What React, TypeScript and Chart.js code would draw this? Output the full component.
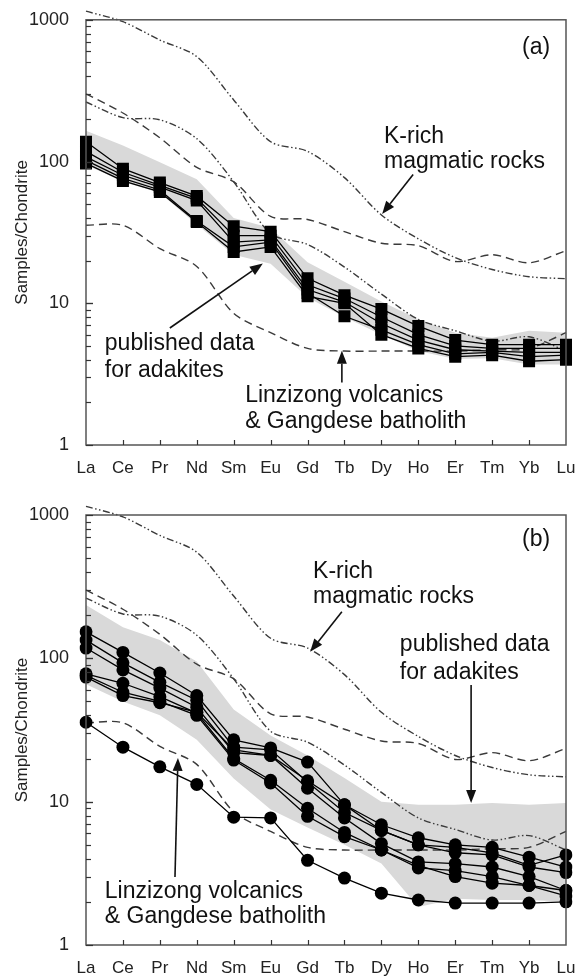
import React, { useEffect, useRef } from 'react';
import { Chart, registerables } from 'chart.js';

Chart.register(...registerables);

const FONT = '"Liberation Sans", Arial, Helvetica, sans-serif';

// ---------- categories & axis ----------
const ELEMENTS = ['La', 'Ce', 'Pr', 'Nd', 'Sm', 'Eu', 'Gd', 'Tb', 'Dy', 'Ho', 'Er', 'Tm', 'Yb', 'Lu'];
const Y_LABELED_TICKS = [1, 10, 100, 1000];
const Y_TITLE = 'Samples/Chondrite';

// ---------- reference fields (same in both panels) ----------
const KRICH_UPPER = [1150, 970, 720, 550, 272, 138, 118, 77, 42, 28.5, 21, 17.3, 15.4, 14.9];
const KRICH_LOWER = [263, 204, 197, 145, 72, 31, 26, 18, 11.6, 7.7, 6.4, 5.4, 5.8, 4.6];
const LINZ_UPPER = [300, 220, 147, 91, 72, 41, 39, 32, 26.5, 25.5, 19.7, 22, 19.3, 23.5];
const LINZ_LOWER = [35.5, 35.5, 24.3, 18.2, 8.5, 6.2, 4.8, 4.6, 4.6, 4.6, 4.6, 4.7, 4.8, 6.2];

// ---------- panel (a) ----------
const A_BAND_UPPER = [165, 130, 99, 75, 40, 34, 19.5, 14.2, 10.3, 7.7, 6.2, 5.7, 6.4, 6.2];
const A_BAND_LOWER = [95, 72, 60, 36, 22, 19, 11, 8, 6, 4.6, 4.05, 4.1, 3.7, 3.7];
const A_S1 = [138, 89, 71, 57, 35, 32, 15, 11.4, 9.1, 6.9, 5.5, 5.1, 5.1, 5.1];
const A_S2 = [118, 84, 68, 55, 30, 30, 13.5, 10.8, 8.0, 6.0, 5.0, 4.8, 4.8, 4.8];
const A_S3 = [108, 80, 66, 53, 27, 28, 12.5, 10.2, 7.2, 5.5, 4.7, 4.6, 4.5, 4.5];
const A_S4 = [102, 76, 63, 38, 25, 27, 11.8, 8.1, 6.5, 5.1, 4.4, 4.5, 4.2, 4.3];
const A_S5 = [97, 73, 61, 37.5, 23, 25, 11.2, 10.0, 6.0, 4.8, 4.2, 4.3, 3.9, 4.0];

// ---------- panel (b) ----------
const B_BAND_UPPER = [236, 165, 134, 95, 44, 29, 21, 14.6, 10, 9.5, 9.5, 9.8, 9.5, 9.8];
const B_BAND_LOWER = [66, 50, 40, 27, 14.5, 8.8, 6.6, 5.0, 3.7, 1.84, 2.1, 2.06, 2.06, 2.0];
const B_S1 = [153, 110, 79, 55, 27, 23.7, 18.9, 9.5, 6.9, 5.6, 5.0, 4.8, 4.1, 3.5];
const B_S2 = [134, 93, 68, 51, 24, 23, 13.7, 8.4, 6.3, 5.0, 4.4, 4.25, 3.5, 3.2];
const B_S3 = [118, 83, 62, 45.6, 22, 21, 12.4, 7.7, 5.1, 3.8, 3.7, 3.5, 3.0, 2.4];
const B_S4 = [78, 67, 54, 41.5, 20, 14.1, 9.0, 6.1, 4.6, 3.45, 3.3, 3.0, 2.6, 2.2];
const B_S5 = [76, 58, 50, 40, 19.5, 13.5, 7.9, 5.7, 4.6, 3.6, 3.0, 2.7, 2.6, 2.4];
const B_S6 = [74, 55, 49, 42, 23, 21, 14, 9.5, 6.3, 5.0, 4.8, 4.4, 3.6, 4.25];
const B_S7 = [35.8, 24, 17.5, 13.2, 7.8, 7.7, 3.9, 2.93, 2.3, 2.06, 1.96, 1.96, 1.96, 2.0];

// ---------- annotations (category index, value) ----------
type Txt = { lines: string[]; x: number; y: number[]; align: CanvasTextAlign };
type Arrow = { x1: number; y1: number; x2: number; y2: number };

const A_TEXTS: Txt[] = [
  { lines: ['(a)'], x: 12.57, y: [637], align: 'right' },
  { lines: ['K-rich', 'magmatic rocks'], x: 8.07, y: [150, 100], align: 'left' },
  { lines: ['published data', 'for adakites'], x: 0.51, y: [5.17, 3.34], align: 'left' },
  { lines: ['Linzizong volcanics', '& Gangdese batholith'], x: 4.31, y: [2.24, 1.47], align: 'left' },
];
const A_ARROWS: Arrow[] = [
  { x1: 8.86, y1: 81, x2: 8.02, y2: 42.6 },
  { x1: 2.27, y1: 6.69, x2: 4.79, y2: 19.06 },
  { x1: 6.93, y1: 2.76, x2: 6.93, y2: 4.62 },
];
const B_TEXTS: Txt[] = [
  { lines: ['(b)'], x: 12.57, y: [670], align: 'right' },
  { lines: ['K-rich', 'magmatic rocks'], x: 6.15, y: [401, 268], align: 'left' },
  { lines: ['published data', 'for adakites'], x: 8.5, y: [124, 80], align: 'left' },
  { lines: ['Linzizong volcanics', '& Gangdese batholith'], x: 0.51, y: [2.34, 1.57], align: 'left' },
];
const B_ARROWS: Arrow[] = [
  { x1: 6.93, y1: 211, x2: 6.07, y2: 111 },
  { x1: 10.43, y1: 65.2, x2: 10.43, y2: 9.8 },
  { x1: 2.41, y1: 2.98, x2: 2.49, y2: 20.2 },
];

type PanelCfg = {
  samples: number[][];
  bandUpper: number[];
  bandLower: number[];
  marker: 'rect' | 'circle';
  texts: Txt[];
  arrows: Arrow[];
  padTop: number;
  xAxisH: number;
};

const PANEL_A: PanelCfg = {
  samples: [A_S1, A_S2, A_S3, A_S4, A_S5],
  bandUpper: A_BAND_UPPER,
  bandLower: A_BAND_LOWER,
  marker: 'rect',
  texts: A_TEXTS,
  arrows: A_ARROWS,
  padTop: 16,
  xAxisH: 44,
};
const PANEL_B: PanelCfg = {
  samples: [B_S1, B_S2, B_S3, B_S4, B_S5, B_S6, B_S7],
  bandUpper: B_BAND_UPPER,
  bandLower: B_BAND_LOWER,
  marker: 'circle',
  texts: B_TEXTS,
  arrows: B_ARROWS,
  padTop: 26,
  xAxisH: 33,
};

const DASH = [8, 5];
const DASHDOT = [7, 2.5, 1.5, 2.5, 1.5, 2.5];

function isPow10(v: number) {
  const l = Math.log10(v);
  return Math.abs(l - Math.round(l)) < 1e-9;
}

function makePlugin(cfg: PanelCfg) {
  return {
    id: 'decor',
    afterDraw(chart: any) {
      const ctx: CanvasRenderingContext2D = chart.ctx;
      const { left, right, top, bottom } = chart.chartArea;
      const xs = chart.scales.x;
      const ys = chart.scales.y;
      ctx.save();
      // frame
      ctx.strokeStyle = '#555';
      ctx.lineWidth = 1.5;
      ctx.strokeRect(left, top, right - left, bottom - top);
      // x ticks (inward)
      ctx.lineWidth = 1.2;
      ctx.strokeStyle = '#333';
      for (let i = 1; i < ELEMENTS.length - 1; i++) {
        const px = Math.round(xs.getPixelForValue(i)) + 0.5;
        ctx.beginPath();
        ctx.moveTo(px, bottom);
        ctx.lineTo(px, bottom - 5);
        ctx.stroke();
      }
      // y ticks (inward, log minor)
      for (const d of [1, 10, 100]) {
        for (let m = 1; m <= 10; m++) {
          const v = d * m;
          const py = Math.round(ys.getPixelForValue(v)) + 0.5;
          ctx.beginPath();
          ctx.moveTo(left, py);
          ctx.lineTo(left + (isPow10(v) ? 7 : 5), py);
          ctx.stroke();
        }
      }
      // y title
      ctx.fillStyle = '#222';
      ctx.font = `17px ${FONT}`;
      ctx.textAlign = 'center';
      ctx.textBaseline = 'middle';
      ctx.save();
      ctx.translate(22, (top + bottom) / 2);
      ctx.rotate(-Math.PI / 2);
      ctx.fillText(Y_TITLE, 0, 0);
      ctx.restore();
      // texts
      ctx.font = `23px ${FONT}`;
      ctx.fillStyle = '#111';
      for (const t of cfg.texts) {
        ctx.textAlign = t.align;
        const px = xs.getPixelForValue(t.x);
        t.lines.forEach((ln, k) => {
          ctx.fillText(ln, px, ys.getPixelForValue(t.y[k]));
        });
      }
      // arrows
      ctx.strokeStyle = '#111';
      ctx.fillStyle = '#111';
      ctx.lineWidth = 1.6;
      for (const a of cfg.arrows) {
        const x1 = xs.getPixelForValue(a.x1);
        const y1 = ys.getPixelForValue(a.y1);
        const x2 = xs.getPixelForValue(a.x2);
        const y2 = ys.getPixelForValue(a.y2);
        const ang = Math.atan2(y2 - y1, x2 - x1);
        const hl = 13;
        const hw = 5;
        const bx = x2 - hl * Math.cos(ang);
        const by = y2 - hl * Math.sin(ang);
        ctx.beginPath();
        ctx.moveTo(x1, y1);
        ctx.lineTo(bx, by);
        ctx.stroke();
        ctx.beginPath();
        ctx.moveTo(x2, y2);
        ctx.lineTo(bx + hw * Math.sin(ang), by - hw * Math.cos(ang));
        ctx.lineTo(bx - hw * Math.sin(ang), by + hw * Math.cos(ang));
        ctx.closePath();
        ctx.fill();
      }
      ctx.restore();
    },
  };
}

function buildConfig(cfg: PanelCfg): any {
  const refLine = (data: number[], dash: number[]) => ({
    data,
    borderColor: '#3a3a3a',
    borderWidth: 1.4,
    borderDash: dash,
    pointRadius: 0,
    tension: 0.3,
    fill: false,
    clip: false,
    order: 1,
  });
  const datasets: any[] = [
    ...cfg.samples.map((s) => ({
      data: s,
      borderColor: '#000',
      borderWidth: 1.3,
      pointStyle: cfg.marker,
      pointRadius: cfg.marker === 'rect' ? 8.5 : 6.5,
      pointBackgroundColor: '#000',
      pointBorderColor: '#000',
      pointBorderWidth: 0,
      fill: false,
      tension: 0,
      order: 0,
    })),
    refLine(KRICH_UPPER, DASHDOT),
    refLine(KRICH_LOWER, DASHDOT),
    refLine(LINZ_UPPER, DASH),
    refLine(LINZ_LOWER, DASH),
  ];
  const upperIdx = datasets.length;
  datasets.push({
    data: cfg.bandUpper,
    borderColor: 'rgba(0,0,0,0)',
    borderWidth: 0,
    pointRadius: 0,
    backgroundColor: 'rgb(217,217,217)',
    fill: { target: upperIdx + 1 },
    tension: 0,
    order: 5,
  });
  datasets.push({
    data: cfg.bandLower,
    borderColor: 'rgba(0,0,0,0)',
    borderWidth: 0,
    pointRadius: 0,
    fill: false,
    tension: 0,
    order: 5,
  });

  return {
    type: 'line',
    data: { labels: ELEMENTS, datasets },
    options: {
      responsive: false,
      animation: false,
      devicePixelRatio: 1,
      layout: { padding: { top: cfg.padTop, right: 22, left: 0, bottom: 0 } },
      plugins: { legend: { display: false }, tooltip: { enabled: false } },
      scales: {
        x: {
          type: 'category',
          offset: false,
          grid: { display: false },
          border: { display: false },
          ticks: {
            autoSkip: false,
            maxRotation: 0,
            padding: 5,
            color: '#222',
            font: { size: 17, family: FONT },
          },
          afterFit(s: any) {
            s.height = cfg.xAxisH;
          },
        },
        y: {
          type: 'logarithmic',
          min: 1,
          max: 1000,
          grid: { display: false },
          border: { display: false },
          ticks: {
            autoSkip: false,
            padding: 9,
            color: '#222',
            font: { size: 18, family: FONT },
            callback: (v: any) => (Y_LABELED_TICKS.includes(Number(v)) ? String(v) : ''),
          },
          afterFit(s: any) {
            s.width = 86;
          },
        },
      },
    },
    plugins: [makePlugin(cfg)],
  };
}

function Panel({ cfg }: { cfg: PanelCfg }) {
  const ref = useRef<HTMLCanvasElement>(null);
  useEffect(() => {
    const chart = new Chart(ref.current as HTMLCanvasElement, buildConfig(cfg));
    return () => chart.destroy();
  }, [cfg]);
  return <canvas ref={ref} width={588} height={489} style={{ display: 'block', width: 588, height: 489 }} />;
}

export default function App() {
  return (
    <div style={{ position: 'absolute', left: 0, top: 0, width: 588, height: 978, background: '#fff' }}>
      <Panel cfg={PANEL_A} />
      <Panel cfg={PANEL_B} />
    </div>
  );
}
